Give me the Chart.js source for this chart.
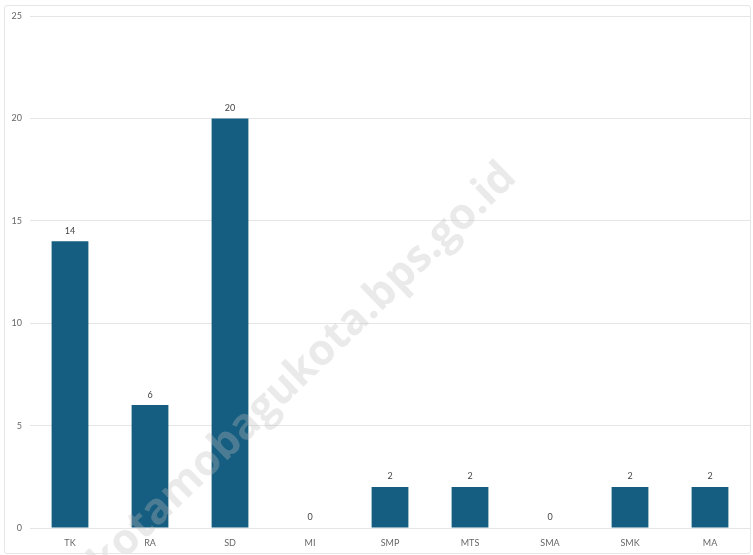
<!DOCTYPE html>
<html>
<head>
<meta charset="utf-8">
<script src="https://cdn.jsdelivr.net/npm/chart.js@4"></script>
<style>
  html, body { margin: 0; padding: 0; background: #fff; }
  #wrap { position: relative; width: 753px; height: 555px; }
  #frame { position: absolute; left: 4px; top: 5px; width: 745px; height: 547px; border: 1px solid #e6e6e6; border-radius: 3px; pointer-events: none; }
</style>
</head>
<body>
<div id="wrap">
  <canvas id="chart" width="753" height="555"></canvas>
  <div id="frame"></div>
</div>
<script>
const categories = ['TK', 'RA', 'SD', 'MI', 'SMP', 'MTS', 'SMA', 'SMK', 'MA'];
const values = [14, 6, 20, 0, 2, 2, 0, 2, 2];
const yTicks = [0, 5, 10, 15, 20, 25];
const watermark = 'kotamobagukota.bps.go.id';

Chart.defaults.color = '#666';
Chart.defaults.font.family = 'Lato';
Chart.defaults.font.size = 9;

const valueLabels = {
    id: 'valueLabels',
    afterDatasetsDraw(chart) {
        const ctx = chart.ctx;
        const meta = chart.getDatasetMeta(0);
        ctx.save();
        ctx.fillStyle = '#444';
        ctx.font = '9px Lato';
        ctx.textAlign = 'center';
        ctx.textBaseline = 'bottom';
        meta.data.forEach((bar, i) => {
            ctx.fillText(values[i], bar.x, bar.y - 6);
        });
        ctx.restore();
    }
};

const watermarkText = {
    id: 'watermarkText',
    afterDraw(chart) {
        const ctx = chart.ctx;
        ctx.save();
        ctx.translate(303, 370);
        ctx.rotate(-44 * Math.PI / 180);
        ctx.font = 'bold 43px "Open Sans"';
        ctx.fillStyle = 'rgba(190,190,190,0.32)';
        ctx.textAlign = 'center';
        ctx.textBaseline = 'middle';
        ctx.fillText(watermark, 0, 0);
        ctx.restore();
    }
};

new Chart(document.getElementById('chart'), {
    type: 'bar',
    data: {
        labels: categories,
        datasets: [{
            data: values,
            backgroundColor: '#155e81',
            barPercentage: 0.46,
            categoryPercentage: 1
        }]
    },
    options: {
        responsive: false,
        animation: false,
        layout: { padding: { top: 16, right: 3, left: 0, bottom: 0 } },
        plugins: { legend: { display: false }, tooltip: { enabled: false } },
        scales: {
            x: {
                grid: { display: false },
                border: { display: false },
                ticks: { padding: 2, color: '#666' },
                afterFit(scale) { scale.height = 27; }
            },
            y: {
                min: 0,
                max: 25,
                afterBuildTicks(scale) { scale.ticks = yTicks.map(v => ({ value: v })); },
                grid: { color: '#e6e6e6', drawTicks: false },
                border: { display: false },
                ticks: { padding: 8, color: '#666' },
                afterFit(scale) { scale.width = 30; }
            }
        }
    },
    plugins: [valueLabels, watermarkText]
});
</script>
</body>
</html>
